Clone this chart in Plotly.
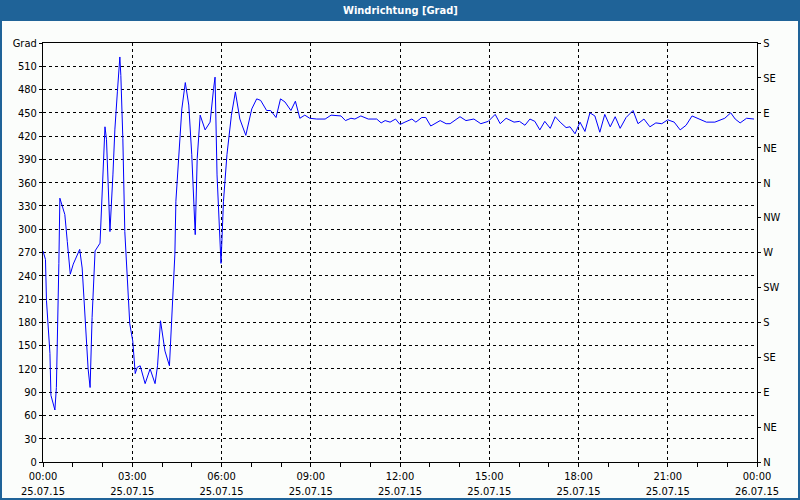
import pandas as pd
import plotly.graph_objects as go

# minutes after midnight (25.07.15) and wind direction in degrees
MINUTES = [
    0, 5, 7, 14, 16, 24, 27, 29, 32, 34, 44, 49, 55, 61, 74, 79, 87, 91, 95, 99,
    105, 115, 120, 125, 128, 132, 135, 141, 145, 150, 155, 157, 161, 165, 170, 175,
    181, 186, 190, 196, 206, 216, 226, 231, 237, 246, 255, 260, 266, 268, 274, 280,
    287, 294, 300, 307, 311, 317, 327, 337, 344, 347, 351, 358, 359, 364, 371, 380,
    388, 397, 409, 421, 431, 439, 451, 459, 470, 479, 488, 500, 509, 518, 528, 538,
    552, 569, 581, 601, 610, 621, 629, 641, 656, 673, 682, 690, 700, 711, 720, 730,
    744, 752, 764, 772, 782, 801, 813, 821, 841, 853, 869, 883, 898, 912, 922, 934,
    950, 961, 972, 982, 992, 1002, 1012, 1023, 1033, 1043, 1055, 1063, 1073, 1083,
    1093, 1103, 1113, 1123, 1133, 1144, 1154, 1164, 1176, 1190, 1200, 1212, 1224,
    1236, 1248, 1260, 1273, 1285, 1297, 1309, 1325, 1338, 1355, 1375, 1387, 1396,
    1406, 1419, 1434,
]
DIRECTION = [
    272, 261, 208, 140, 86, 67, 96, 152, 256, 340, 319, 284, 242, 255, 274, 250, 152, 120, 96, 186,
    272, 282, 357, 432, 416, 357, 297, 370, 429, 477, 522, 498, 417, 297, 242, 178,
    156, 114, 122, 124, 101, 120, 101, 124, 182, 143, 124, 186, 268, 336, 391, 455,
    489, 460, 396, 293, 391, 447, 428, 438, 481, 496, 370, 276, 256, 336, 396, 447,
    477, 442, 421, 455, 468, 466, 453, 453, 444, 468, 464, 453, 465, 443, 447, 443,
    442, 442, 447, 446, 440, 443, 442, 446, 442, 442, 437, 440, 438, 442, 435, 438,
    442, 438, 444, 444, 433, 440, 436, 436, 445, 440, 442, 436, 439, 448, 436, 443,
    438, 439, 434, 442, 439, 428, 439, 430, 445, 438, 431, 432, 423, 438,
    426, 450, 446, 425, 448, 432, 445, 430, 444, 453, 436, 442, 432,
    437, 436, 441, 438, 428, 434, 446, 442, 438, 438, 443, 450, 442,
    437, 443, 442,
]

X_TICK_HOURS = [0, 3, 6, 9, 12, 15, 18, 21, 24]
X_TICK_TEXT = [
    "00:00<br>25.07.15", "03:00<br>25.07.15", "06:00<br>25.07.15",
    "09:00<br>25.07.15", "12:00<br>25.07.15", "15:00<br>25.07.15",
    "18:00<br>25.07.15", "21:00<br>25.07.15", "00:00<br>26.07.15",
]
LEFT_TICKS = list(range(0, 541, 30))
LEFT_TEXT = [str(v) for v in range(0, 511, 30)] + ["Grad"]
COMPASS_TICKS = list(range(0, 541, 45))
COMPASS_TEXT = ["N", "NE", "E", "SE", "S", "SW", "W", "NW", "N", "NE", "E", "SE", "S"]

TITLE_BG = "#1f6398"
PAGE_BG = "#fbfdfb"
FONT = "DejaVu Sans Condensed, Liberation Sans Narrow, Liberation Sans, sans-serif"

day = pd.Timestamp("2015-07-25")
times = day + pd.to_timedelta(MINUTES, unit="m")
tick_times = [day + pd.Timedelta(hours=h) for h in X_TICK_HOURS]

fig = go.Figure()
fig.add_trace(
    go.Scatter(
        x=times,
        y=DIRECTION,
        mode="lines",
        line={"color": "#0000ff", "width": 1},
        showlegend=False,
    )
)
# invisible trace so the right compass axis is drawn
fig.add_trace(
    go.Scatter(x=[times[0]], y=[0], yaxis="y2", mode="markers",
               marker={"opacity": 0}, showlegend=False, hoverinfo="skip")
)

W, H = 800, 500
L, R, T, B = 43, 43, 43, 38
pw, ph = W - L - R, H - T - B


def px_x(x):
    return (x - L) / pw


def px_y(y):
    return (H - B - y) / ph


fig.update_layout(
    width=W,
    height=H,
    margin={"l": L, "r": R, "t": T, "b": B, "autoexpand": False},
    paper_bgcolor=PAGE_BG,
    plot_bgcolor=PAGE_BG,
    font={"family": FONT, "size": 11, "color": "#000000"},
    xaxis={
        "type": "date",
        "automargin": False,
        "range": [tick_times[0], tick_times[-1]],
        "tickvals": tick_times,
        "ticktext": X_TICK_TEXT,
        "ticks": "outside",
        "ticklen": 4,
        "tickcolor": "#000000",
        "showline": True,
        "linecolor": "#000000",
        "linewidth": 1,
        "mirror": True,
        "showgrid": True,
        "gridcolor": "#000000",
        "gridwidth": 1,
        "griddash": "3px,3px",
        "zeroline": False,
        "minor": {"dtick": 3600000, "ticks": "outside", "ticklen": 4,
                  "tickcolor": "#000000", "showgrid": False},
    },
    yaxis={
        "automargin": False,
        "range": [0, 540],
        "tickvals": LEFT_TICKS,
        "ticktext": LEFT_TEXT,
        "ticks": "outside",
        "ticklen": 3,
        "tickcolor": "#000000",
        "showline": True,
        "linecolor": "#000000",
        "linewidth": 1,
        "showgrid": True,
        "gridcolor": "#000000",
        "gridwidth": 1,
        "griddash": "3px,3px",
        "zeroline": False,
    },
    yaxis2={
        "automargin": False,
        "overlaying": "y",
        "side": "right",
        "range": [0, 540],
        "tickvals": COMPASS_TICKS,
        "ticktext": COMPASS_TEXT,
        "ticks": "outside",
        "ticklen": 3,
        "tickcolor": "#000000",
        "showline": True,
        "linecolor": "#000000",
        "linewidth": 1,
        "showgrid": False,
        "zeroline": False,
    },
    shapes=[
        # title bar
        {"type": "rect", "xref": "paper", "yref": "paper",
         "x0": px_x(0), "x1": px_x(W), "y0": px_y(21), "y1": px_y(0),
         "fillcolor": TITLE_BG, "line": {"width": 0}, "layer": "below"},
        # window frame
        {"type": "rect", "xref": "paper", "yref": "paper",
         "x0": px_x(1), "x1": px_x(W - 1), "y0": px_y(H - 1), "y1": px_y(1),
         "line": {"color": TITLE_BG, "width": 2}, "layer": "below"},
    ],
    annotations=[
        {"text": "<b>Windrichtung [Grad]</b>", "xref": "paper", "yref": "paper",
         "x": 0.5, "y": px_y(10.5), "showarrow": False, "xanchor": "center",
         "yanchor": "middle", "font": {"color": "#ffffff", "size": 11, "family": FONT}},
    ],
)

# drop the browser's default 8px body margin so the figure sits at the window corner
fig.write_html(
    "out.html",
    config={"displayModeBar": False},
    post_script="document.body.style.margin = '0';",
)
